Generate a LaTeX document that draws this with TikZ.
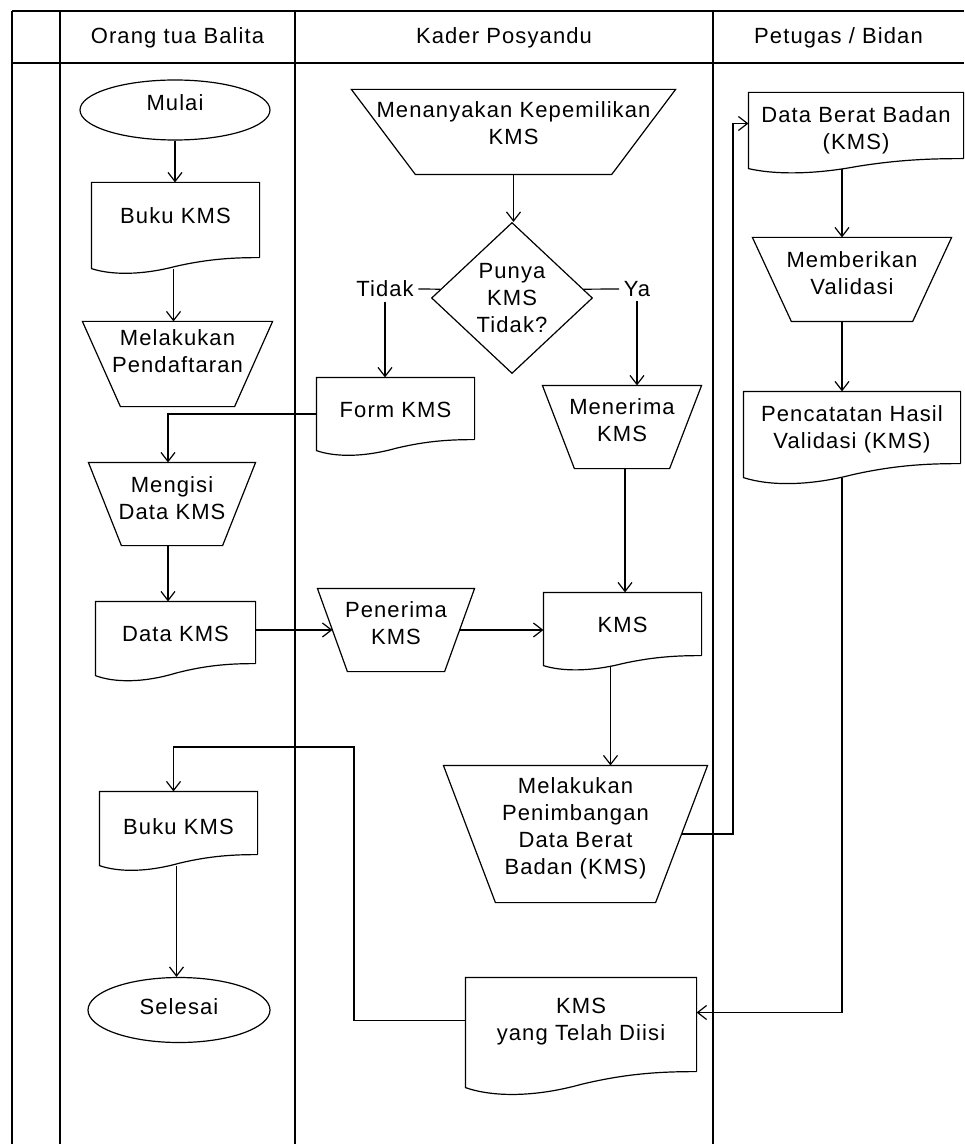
\documentclass[tikz,border=0pt]{standalone}
\usepackage{fontspec}
\setmainfont{Liberation Sans}[LetterSpace=5]
\usetikzlibrary{arrows.meta,shapes.geometric,calc}

\begin{document}
\begin{tikzpicture}[x=0.5pt,y=-0.5pt,line width=0.6pt,
  every node/.style={font=\fontsize{11}{13.5}\selectfont,inner sep=0pt,align=center},
  flow/.style={-{Straight Barb[length=4.5pt,width=7pt]}},
  term/.style={ellipse,draw},
  docnode/.style={rectangle},
  manop/.style={rectangle},
  decide/.style={diamond,draw},
  lab/.style={inner sep=2pt}]

\useasboundingbox (0,0) rectangle (964,1144);

% lanes
\draw (12,11) -- (964,11);
\draw (12,63) -- (964,63);
\foreach \x in {12,60,295,713}{
  \draw (\x,11) -- (\x,1144);
}
\node (hortu) at (177.5,38) {Orang tua Balita};
\node (hkader) at (504,38) {Kader Posyandu};
\node (hbidan) at (838.5,38) {Petugas / Bidan};

% orang tua balita
\node[term,minimum width=95pt,minimum height=30pt,text depth=7pt] (mulai) at (175,110) {Mulai};
\node[docnode,minimum width=83.5pt,minimum height=42.5pt,text depth=10pt] (buku) at (175.5,225.5) {Buku KMS};
\node[manop,minimum width=94.5pt,minimum height=42pt,text depth=13pt] (daftar) at (177.5,364) {Melakukan\\Pendaftaran};
\node[manop,minimum width=83pt,minimum height=41pt,text depth=6pt] (mengisi) at (172,504) {Mengisi\\Data KMS};
\node[docnode,minimum width=79.5pt,minimum height=36.5pt,text depth=4.5pt] (datakms) at (175.5,638.5) {Data KMS};
\node[docnode,minimum width=78.5pt,minimum height=36.5pt,text depth=1.5pt] (bukuisi) at (178.5,828.5) {Buku KMS};
\node[term,minimum width=91pt,minimum height=32.5pt,text depth=3pt] (selesai) at (179,1010) {Selesai};

% kader posyandu
\node[manop,minimum width=161.5pt,minimum height=42pt,text depth=9pt] (tanya) at (513.5,132) {Menanyakan Kepemilikan\\KMS};
\node[decide,minimum width=80.5pt,minimum height=75.5pt] (punya) at (512,298) {Punya\\KMS\\Tidak?};
\node[lab] (tidak) at (385,289) {Tidak};
\node[lab] (ya) at (637,289) {Ya};
\node[docnode,minimum width=78.5pt,minimum height=36pt,text depth=4pt] (form) at (395.5,414) {Form KMS};
\node[manop,minimum width=79pt,minimum height=41pt,text depth=7pt] (menerima) at (622,427) {Menerima\\KMS};
\node[manop,minimum width=78pt,minimum height=41pt,text depth=6.5pt] (penerima) at (396,630) {Penerima\\KMS};
\node[docnode,minimum width=78.5pt,minimum height=36pt,text depth=4pt] (kms) at (622.5,629) {KMS};
\node[manop,minimum width=131.5pt,minimum height=68pt,text depth=8pt] (timbang) at (575.5,834) {Melakukan\\Penimbangan\\Data Berat\\Badan (KMS)};
\node[docnode,minimum width=115pt,minimum height=54.5pt,text depth=13.5pt] (diisi) at (581,1032.5) {KMS\\yang Telah Diisi};

% petugas / bidan
\node[docnode,minimum width=107pt,minimum height=37.5pt] (dbb) at (856,130.5) {Data Berat Badan\\(KMS)};
\node[manop,minimum width=99pt,minimum height=41.5pt,text depth=6pt] (valid) at (852,279.5) {Memberikan\\Validasi};
\node[docnode,minimum width=108pt,minimum height=42.5pt,text depth=7pt] (catat) at (852,434.5) {Pencatatan Hasil\\Validasi (KMS)};

% document outlines: node/wave height
\foreach \n/\a in {buku/11,datakms/12,bukuisi/11,form/11,kms/10,diisi/16,dbb/10,catat/14}{
  \draw ($(\n.south east)+(0,-\a)$) -- (\n.north east) -- (\n.north west) -- (\n.south west)
    .. controls ($(\n.south west)!0.12!(\n.south east)+(0,{0.6*\a})$)
           and ($(\n.south west)!0.3!(\n.south east)+(0,{0.6*\a})$)
    .. ($(\n.south west)!0.5!(\n.south east)+(0,{-0.2*\a})$)
    .. controls ($(\n.south west)!0.7!(\n.south east)+(0,{-0.9*\a})$)
           and ($(\n.south west)!0.85!(\n.south east)+(0,-\a)$)
    .. ($(\n.south east)+(0,-\a)$);
}

% manual operation outlines: node/inset
\foreach \n/\w in {daftar/38,mengisi/33,tanya/64,menerima/32,penerima/30,timbang/52,valid/39}{
  \draw (\n.north west) -- (\n.north east) -- ($(\n.south east)+(-\w,0)$)
    -- ($(\n.south west)+(\w,0)$) -- cycle;
  \coordinate (\n-l) at ($(\n.west)+(\w/2,0)$);
  \coordinate (\n-r) at ($(\n.east)+(-\w/2,0)$);
}

% connectors
\draw[flow] (mulai.south) -- (mulai.south |- buku.north);
\draw[flow] ([xshift=-1pt]buku.south) -- ([xshift=-1pt]buku.south |- daftar.north);
\draw[flow] (form.west) -| ([xshift=-2pt]mengisi.north);
\draw[flow] ([xshift=-2pt]mengisi.south) -- ([xshift=-2pt]mengisi.south |- datakms.north);
\draw[flow] (datakms.east |- penerima-l) -- (penerima-l);
\draw[flow] (penerima-r) -- (penerima-r -| kms.west);

\draw[flow] (tanya.south) -- (tanya.south |- punya.north);
\draw (tidak.east) -- (punya.173);
\draw (ya.west) -- (punya.7);
\draw[flow] (tidak.south) -- (tidak.south |- form.north);
\draw[flow] (ya.south) -- (ya.south |- menerima.north);
\draw[flow] ([xshift=1.5pt]menerima.south) -- ([xshift=1.5pt]menerima.south |- kms.north);
\draw[flow] ([xshift=-6pt]kms.south) -- ([xshift=-6pt]kms.south |- timbang.north);

\coordinate (naik) at (733,0);
\draw[flow] (timbang-r) -- (timbang-r -| naik) |- ([yshift=3.5pt]dbb.west);
\draw[flow] ([xshift=-7pt]dbb.south) -- ([xshift=-7pt]dbb.south |- valid.north);
\draw[flow] ([xshift=-5pt]valid.south) -- ([xshift=-5pt]valid.south |- catat.north);
\draw[flow] ([xshift=-5pt]catat.south) |- ([yshift=10pt]diisi.east);

\coordinate (balik) at (354,747);
\draw[flow] ([yshift=6pt]diisi.west) -| (balik) -| ([xshift=-2.5pt]bukuisi.north);
\draw[flow] ([xshift=-1pt]bukuisi.south) -- ([xshift=-1pt]bukuisi.south |- selesai.north);

\end{tikzpicture}
\end{document}
